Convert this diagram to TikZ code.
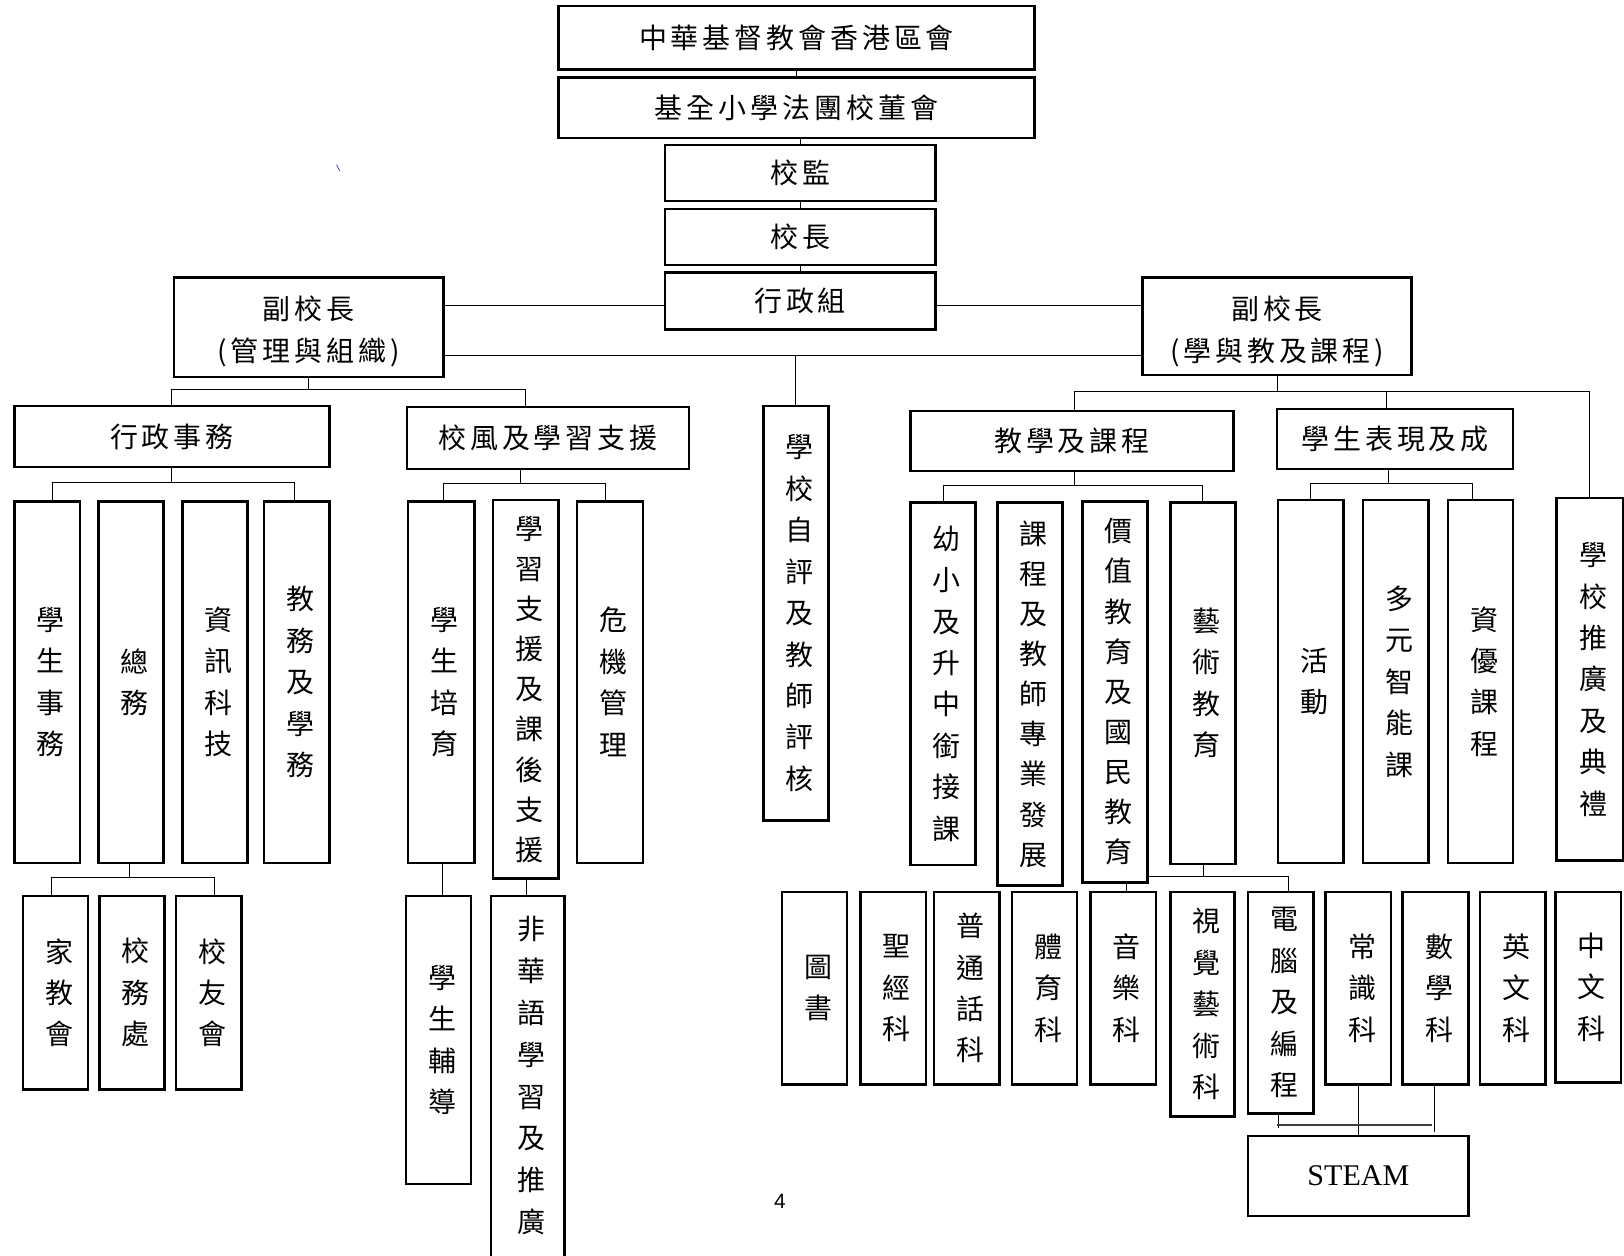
\documentclass[tikz,border=0pt]{standalone}
\usepackage{fontspec}
\newfontfamily\cjk{Noto Sans CJK TC}
\newfontfamily\cjkls{Noto Sans CJK TC}[LetterSpace=14]
\newfontfamily\romanf{Liberation Serif}
\newfontfamily\sansf{Liberation Sans}
\ExplSyntaxOn
\NewDocumentCommand\vv{O{40pt}m}
 {
  \hbox:n
   {
    \skip_horizontal:n {7pt}
    \vbox:n
     {
      \baselineskip=#1 \lineskip=0pt \lineskiplimit=-100pt
      \tl_map_inline:nn {#2} { \hbox:n {##1} }
     }
   }
 }
\ExplSyntaxOff
\begin{document}
\begin{tikzpicture}[x=1pt,y=-1pt,
  bx/.style={draw, line width=2.4pt, inner sep=0pt, outer sep=0pt},
  hz/.style={font=\cjkls\fontsize{27}{40}\selectfont, align=center},
  vt/.style={font=\cjk\fontsize{27}{40}\selectfont},
  ln/.style={line width=1pt}]
\fill[white] (0,0) rectangle (1568,1212);
\useasboundingbox (0,0) rectangle (1568,1212);
\clip (0,0) rectangle (1568,1212);

% top chain
\node[bx, hz, minimum width=460, minimum height=61] (b1) at (769,36.5) {中華基督教會香港區會};
\node[bx, hz, minimum width=460, minimum height=58] (b2) at (769,104) {基全小學法團校董會};
\node[bx, hz, minimum width=261, minimum height=54] (sup) at (772.5,167) {校監};
\node[bx, hz, minimum width=261, minimum height=54] (pri) at (772.5,229) {校長};
\node[bx, hz, minimum width=261, minimum height=55] (adm) at (772.5,290.5) {行政組};
\node[bx, minimum width=260, minimum height=96] (vpl) at (298,316) {};
\node[hz, inner sep=0pt] (vplt) at (298,320) {副校長\\(管理與組織)};
\node[bx, minimum width=260, minimum height=94] (vpr) at (1233,315) {};
\node[hz, inner sep=0pt] (vprt) at (1233,320) {副校長\\(學與教及課程)};

% second level
\node[bx, hz, minimum width=304, minimum height=59] (ga) at (166,421.5) {行政事務};
\node[bx, hz, minimum width=272, minimum height=60] (sl) at (529,423) {校風及學習支援};
\node[bx, vt, minimum width=63, minimum height=400] (se) at (768.5,592) {\vv{學校自評及教師評核}};
\node[bx, hz, minimum width=312, minimum height=58] (tc) at (1035,426) {教學及課程};
\node[bx, hz, minimum width=228, minimum height=58] (sp) at (1347,424) {學生表現及成};
\node[bx, vt, minimum width=64, minimum height=350] (pr) at (1535,656) {\vv{學校推廣及典禮}};

% admin columns
\node[bx, vt, minimum width=63, minimum height=349] (a1) at (45.5,658.5) {\vv{學生事務}};
\node[bx, vt, minimum width=63, minimum height=349] (a2) at (126.5,658.5) {\vv{總務}};
\node[bx, vt, minimum width=63, minimum height=349] (a3) at (207.5,658.5) {\vv{資訊科技}};
\node[bx, vt, minimum width=63, minimum height=349] (a4) at (286.5,658.5) {\vv{教務及學務}};
\node[bx, vt, minimum width=63, minimum height=187] (p1) at (53.5,958.5) {\vv{家教會}};
\node[bx, vt, minimum width=63, minimum height=187] (p2) at (127.5,958.5) {\vv{校務處}};
\node[bx, vt, minimum width=63, minimum height=187] (p3) at (201.5,958.5) {\vv{校友會}};

% school culture columns
\node[bx, vt, minimum width=64, minimum height=349] (s1) at (426,658.5) {\vv{學生培育}};
\node[bx, vt, minimum width=63, minimum height=365] (s2) at (507.5,665.5) {\vv[38.75pt]{學習支援及課後支援}};
\node[bx, vt, minimum width=64, minimum height=349] (s3) at (589,658.5) {\vv{危機管理}};
\node[bx, vt, minimum width=63, minimum height=278] (s4) at (423.5,1004) {\vv{學生輔導}};
\node[bx, minimum width=71, minimum height=365] (s5) at (509.5,1047.5) {};
\node[vt, inner sep=0pt] (s5t) at (509.5,1038.5) {\vv[40.4pt]{非華語學習及推廣}};

% teaching columns
\node[bx, vt, minimum width=63, minimum height=350] (c1) at (910.5,660) {\vv{幼小及升中銜接課}};
\node[bx, vt, minimum width=63, minimum height=370] (c2) at (994.5,670) {\vv[38.75pt]{課程及教師專業發展}};
\node[bx, vt, minimum width=63, minimum height=368] (c3) at (1076.5,668) {\vv[38.75pt]{價值教育及國民教育}};
\node[bx, vt, minimum width=63, minimum height=349] (c4) at (1161.5,659.5) {\vv{藝術教育}};
\node[bx, vt, minimum width=63, minimum height=350] (d1) at (1265.5,658) {\vv{活動}};
\node[bx, vt, minimum width=63, minimum height=350] (d2) at (1347.5,658) {\vv{多元智能課}};
\node[bx, vt, minimum width=63, minimum height=350] (d3) at (1429.5,658) {\vv{資優課程}};

% subjects
\node[bx, vt, minimum width=63, minimum height=186] (j1) at (786.5,954) {\vv{圖書}};
\node[bx, vt, minimum width=63, minimum height=186] (j2) at (862.5,954) {\vv{聖經科}};
\node[bx, vt, minimum width=63, minimum height=186] (j3) at (933.5,954) {\vv{普通話科}};
\node[bx, vt, minimum width=63, minimum height=186] (j4) at (1008.5,954) {\vv{體育科}};
\node[bx, vt, minimum width=63, minimum height=186] (j5) at (1084.5,954) {\vv{音樂科}};
\node[bx, vt, minimum width=62, minimum height=217] (j6) at (1161,969.5) {\vv{視覺藝術科}};
\node[bx, vt, minimum width=63, minimum height=214] (j7) at (1236.5,968) {\vv{電腦及編程}};
\node[bx, vt, minimum width=63, minimum height=186] (j8) at (1311.5,954) {\vv{常識科}};
\node[bx, vt, minimum width=64, minimum height=186] (j9) at (1386,954) {\vv{數學科}};
\node[bx, vt, minimum width=63, minimum height=186] (j10) at (1460.5,954) {\vv{英文科}};
\node[bx, vt, minimum width=63, minimum height=184] (j11) at (1533.5,953) {\vv{中文科}};
\node[bx, minimum width=213, minimum height=77, font=\romanf\fontsize{29}{34}\selectfont] (steam) at (1311.5,1135.5) {STEAM};

\node[font=\sansf\fontsize{20}{24}\selectfont, inner sep=0pt] (pg) at (753,1160) {4};
\draw[color=blue!40!gray, line width=0.8pt] (325,159) -- (328,165);

% connectors: top chain
\draw[ln] (b1.south) -- (b2.north);
\draw[ln] (sup.north) -- (sup.north |- b2.south);
\draw[ln] (sup.south) -- (pri.north);
\draw[ln] (pri.south) -- (adm.north);
\draw[ln] (vpl.east |- 0,294.5) -- (adm.west |- 0,294.5);
\draw[ln] (adm.east |- 0,294.5) -- (vpr.west |- 0,294.5);
\draw[ln] (vpl.east |- 0,343.5) -- (vpr.west |- 0,343.5);
\draw[ln] (se.north) -- (se.north |- 0,343.5);

% left VP
\draw[ln] (vpl.south) -- (vpl.south |- 0,376);
\draw[ln] (ga.north) |- (507,376) -- (507,0 |- sl.north);
\draw[ln] (ga.south) -- (ga.south |- 0,466);
\draw[ln] (51,0 |- a1.north) |- (284,466) -- (284,0 |- a4.north);
\draw[ln] (a2.south -| 125,0) -- (125,847);
\draw[ln] (50,0 |- p1.north) |- (207,847) -- (207,0 |- p3.north);
\draw[ln] (sl.south -| 503,0) -- (503,467);
\draw[ln] (428,0 |- s1.north) |- (585,467) -- (585,0 |- s3.north);
\draw[ln] (s1.south -| 427,0) -- (427,0 |- s4.north);
\draw[ln] (s2.south -| 508,0) -- (508,0 |- s5.north);

% right VP
\draw[ln] (vpr.south) -- (vpr.south |- 0,378);
\draw[ln] (1037,0 |- tc.north) |- (1535,378) -- (1535,0 |- pr.north);
\draw[ln] (1339,378) -- (1339,0 |- sp.north);
\draw[ln] (tc.south -| 1037,0) -- (1037,469);
\draw[ln] (910.5,0 |- c1.north) |- (1161,469) -- (1161,0 |- c4.north);
\draw[ln] (sp.south -| 1341,0) -- (1341,467);
\draw[ln] (1265.5,0 |- d1.north) |- (1422,467) -- (1422,0 |- d3.north);

% subjects
\draw[ln] (c3.south -| 1088,0) -- (1088,0 |- j5.north);
\draw[ln] (c4.south -| 1162,0) -- (1162,846.5);
\draw[ln] (c3.east |- 0,846.5) -- (1244,846.5) -- (1244,0 |- j7.north);
\draw[ln] (j8.south) -- (steam.north);
\draw[ln] (j7.south -| 1234,0) -- (1234,1089);
\draw[ln, line width=1.5pt, color=black!75] (1233,1086) -- (1383,1086);
\draw[ln] (j9.south -| 1385,0) -- (1385,1093);
\end{tikzpicture}
\end{document}
